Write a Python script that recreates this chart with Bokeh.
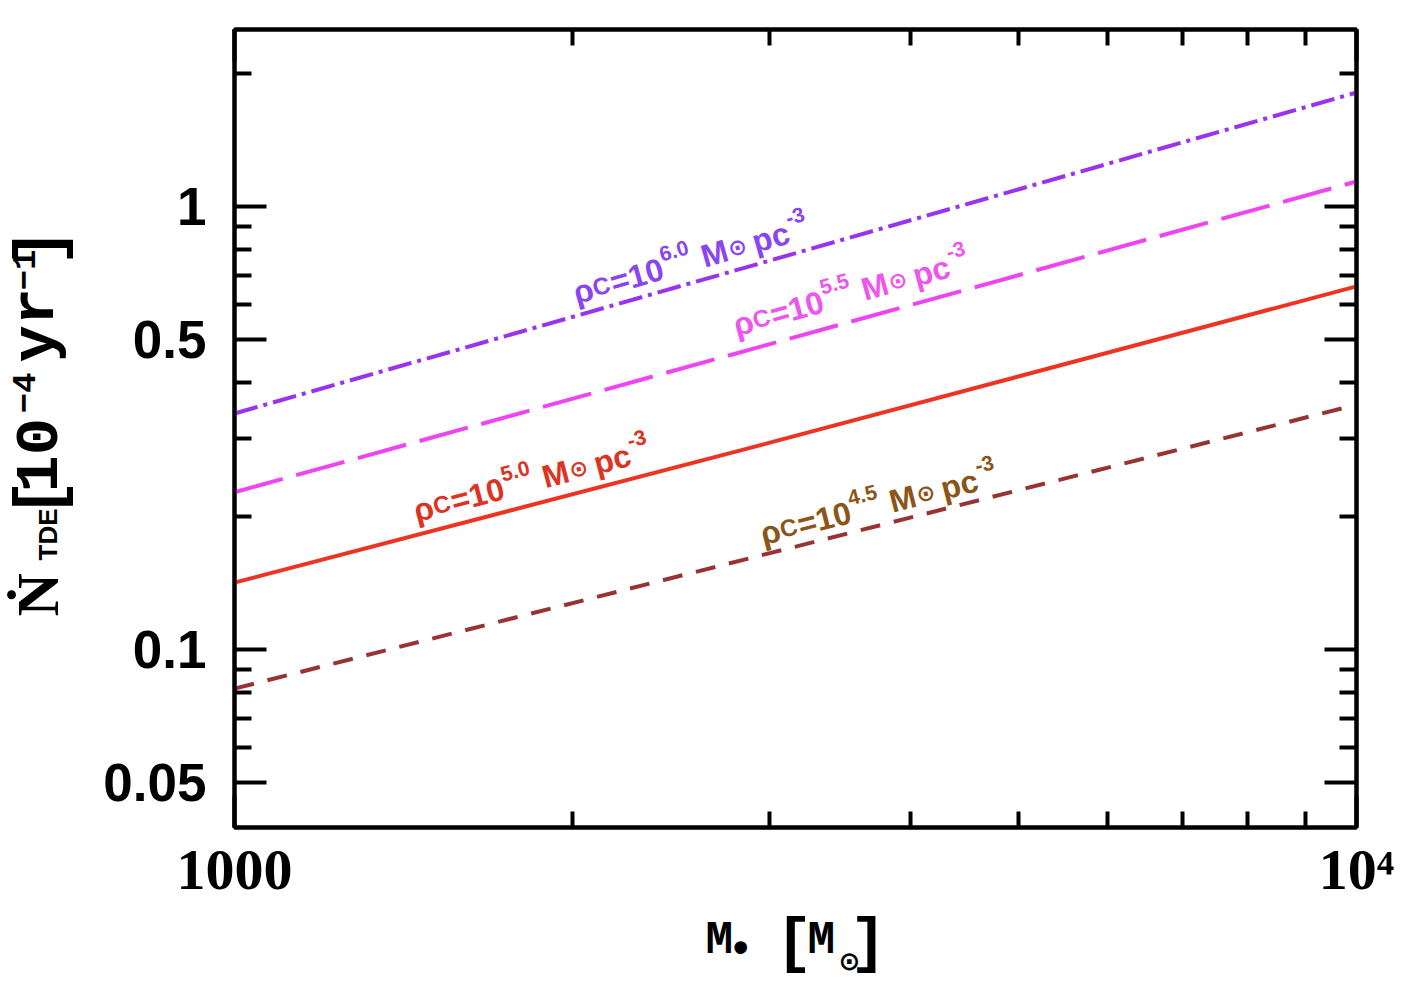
import math
from bokeh.plotting import figure
from bokeh.models import FixedTicker, LogAxis, Label, CustomJSTickFormatter, Range1d
from bokeh.core.properties import value
from bokeh.embed import file_html
from bokeh.resources import INLINE

# ---------------- data ----------------
mass = [1000, 3000, 10000]
rate_rho45 = [0.0816, 0.165, 0.357]
rate_rho50 = [0.1416, 0.293, 0.660]
rate_rho55 = [0.2265, 0.489, 1.139]
rate_rho60 = [0.341, 0.755, 1.808]
rho_exponents = ["6.0", "5.5", "5.0", "4.5"]

y_major_ticks = [0.05, 0.1, 0.5, 1]
y_major_labels = ["0.05", "0.1", "0.5", "1"]
y_minor_ticks = [0.06, 0.07, 0.08, 0.09, 0.2, 0.3, 0.4, 0.6, 0.7, 0.8, 0.9, 2]
x_major_ticks = [1000, 10000]
x_major_labels = ["1000", "10\u2074"]
x_minor_ticks = [2000, 3000, 4000, 5000, 6000, 7000, 8000, 9000]

# ---------------- layout ----------------
W, H = 1410, 980
BL, BR, BT, BB = 234, 54, 29, 153
FW, FH = W - BL - BR, H - BT - BB
XR = (1000, 10000)
YR = (0.03965, 2.509)
px_dec_x = FW / math.log10(XR[1] / XR[0])
px_dec_y = FH / math.log10(YR[1] / YR[0])

p = figure(width=W, height=H, x_axis_type="log", y_axis_type="log",
           x_range=Range1d(*XR), y_range=Range1d(*YR),
           output_backend="svg", toolbar_location=None,
           min_border_left=BL, min_border_right=BR,
           min_border_top=BT, min_border_bottom=BB)
p.grid.visible = False
p.outline_line_color = "black"
p.outline_line_width = 4
p.background_fill_color = "white"
p.border_fill_color = "white"


def fmt(tk, lb):
    return CustomJSTickFormatter(args=dict(tk_vals=tk, tk_labels=lb), code="""
        for (let i = 0; i < tk_vals.length; i++) {
            if (Math.abs(tk_vals[i] - tick) / tk_vals[i] < 1e-6) { return tk_labels[i]; }
        }
        return '';
    """)


def style_axis(ax, major_len, minor_len):
    ax.axis_line_width = 4
    ax.axis_line_color = "black"
    ax.major_tick_line_width = 4
    ax.minor_tick_line_width = 4
    ax.major_tick_in = major_len
    ax.major_tick_out = 0
    ax.minor_tick_in = minor_len
    ax.minor_tick_out = 0
    ax.major_label_text_color = "black"


xt = FixedTicker(ticks=x_major_ticks, minor_ticks=x_minor_ticks)
yt = FixedTicker(ticks=y_major_ticks, minor_ticks=y_minor_ticks)

xa = p.xaxis[0]
xa.ticker = xt
xa.formatter = fmt(x_major_ticks, x_major_labels)
style_axis(xa, 32, 16)
xa.major_label_text_font = "Liberation Serif"
xa.major_label_text_font_style = "bold"
xa.major_label_text_font_size = "58px"
xa.major_label_standoff = 9

ya = p.yaxis[0]
ya.ticker = yt
ya.formatter = fmt(y_major_ticks, y_major_labels)
style_axis(ya, 32, 17)
ya.major_label_text_font = "Liberation Sans"
ya.major_label_text_font_style = "bold"
ya.major_label_text_font_size = "53px"
ya.major_label_standoff = 28

top = LogAxis(ticker=FixedTicker(ticks=x_major_ticks, minor_ticks=x_minor_ticks),
              formatter=CustomJSTickFormatter(code="return '';"),
              major_label_text_font_size="1px")
style_axis(top, 32, 16)
p.add_layout(top, "above")
right = LogAxis(ticker=FixedTicker(ticks=y_major_ticks, minor_ticks=y_minor_ticks),
                formatter=CustomJSTickFormatter(code="return '';"),
                major_label_text_font_size="1px")
style_axis(right, 32, 17)
p.add_layout(right, "right")

# ---------------- lines ----------------
series = [
    (rate_rho60, "#9933ee", "24 6 4 6", "#8a44f0"),
    (rate_rho55, "#ee44f4", "50 14", "#ee55ee"),
    (rate_rho50, "#ee3322", "solid", "#dd3322"),
    (rate_rho45, "#993333", "20 14", "#8b5518"),
]
for ys, col, dash, _ in series:
    p.line(mass, ys, line_color=col, line_width=4, line_dash=dash)

# ---------------- curve labels ----------------
label_anchor = [(2013, 0.6166), (2795, 0.522), (1450, 0.1986), (2954, 0.1762)]
F = 32
LIFT = 6
for (ys, col, dash, tcol), (ax_, ay_), ex in zip(series, label_anchor, rho_exponents):
    slope = math.log10(ys[-1] / ys[0]) / math.log10(mass[-1] / mass[0])
    ang = math.atan(slope * px_dec_y / px_dec_x)
    pieces = [
        ("\u03c1", 1.0, 0.0, 0.62, "Liberation Sans"),
        ("C", 0.75, 0.0, 0.58, "Liberation Sans"),
        ("=10", 1.0, 0.0, 1.72, "Liberation Sans"),
        (ex, 0.66, 0.42, 0.98, "Liberation Sans"),
        ("M", 1.0, 0.0, 0.86, "Liberation Sans"),
        ("\u2299", 0.7, 0.0, 0.62, "DejaVu Sans"),
        ("pc", 1.0, 0.0, 1.20, "Liberation Sans"),
        ("-3", 0.66, 0.42, 0.6, "Liberation Sans"),
    ]
    d = 0.0
    gaps = {4: 0.26, 6: 0.18}
    for i, (txt, sc, up, adv, fnt) in enumerate(pieces):
        d += gaps.get(i, 0.0) * F
        h = up * F + LIFT
        xo = d * math.cos(ang) - h * math.sin(ang)
        yo = d * math.sin(ang) + h * math.cos(ang)
        p.add_layout(Label(x=ax_, y=ay_, x_offset=xo, y_offset=yo, angle=ang,
                           text=txt, text_color=tcol, text_font=fnt,
                           text_font_style="bold", text_font_size=f"{sc * F:.1f}px",
                           text_baseline="alphabetic", text_align="left"))
        d += adv * F


# ---------------- axis titles (text glyphs placed outside the frame) ----------------
def px_to_data(px, py):
    x = XR[0] * 10 ** ((px - BL) / px_dec_x)
    y = YR[0] * 10 ** ((BT + FH - py) / px_dec_y)
    return x, y


def page_text(txt, px, py, size, font="Liberation Mono", angle=0.0, style="bold"):
    x, y = px_to_data(px, py)
    p.text(x=[x], y=[y], text=[txt], angle=angle, text_font=value(font),
           text_font_style=style, text_font_size=f"{size}px", text_color="black",
           text_baseline="alphabetic", text_align="left", level="overlay")


# x title:  M• [M⊙]
page_text("M", 705, 940, 46)
page_text("\u2022", 727, 949, 44)
page_text("[", 775, 943, 62)
page_text("M", 807, 940, 46)
page_text("\u2299", 838, 960, 26, font="DejaVu Sans")
page_text("]", 849, 943, 62)

# y title:  Ṅ_TDE [10^-4 yr^-1]  (rotated, reading upward)
V = math.pi / 2
page_text("\u1e44", 37, 616, 60, font="Liberation Serif", angle=V)
page_text("TDE", 47, 560, 26, font="Liberation Sans", angle=V)
page_text("[", 42, 517, 64, angle=V)
page_text("10", 36, 492, 62, angle=V)
page_text("\u2212" + "4", 23, 413, 34, angle=V)
page_text("yr", 36, 362, 62, angle=V)
page_text("\u2212" + "1", 23, 290, 34, angle=V)
page_text("]", 42, 266, 64, angle=V)

open("out.html", "w").write(file_html(p, INLINE))
